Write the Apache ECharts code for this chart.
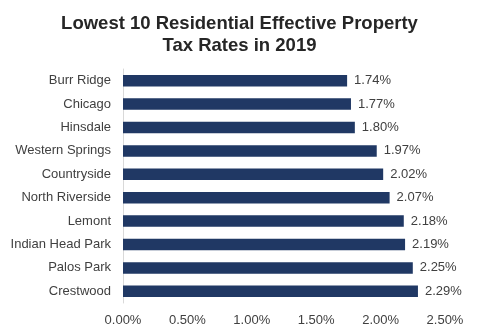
<!DOCTYPE html>
<html><head><meta charset="utf-8">
<script src="https://cdn.jsdelivr.net/npm/echarts@6/dist/echarts.min.js"></script>
<style>html,body{margin:0;padding:0;background:#fff}#c{width:479px;height:335px}</style>
</head><body><div id="c"></div>
<script>
const categories = ["Burr Ridge","Chicago","Hinsdale","Western Springs","Countryside","North Riverside","Lemont","Indian Head Park","Palos Park","Crestwood"];
const rates = [1.74,1.77,1.80,1.97,2.02,2.07,2.18,2.19,2.25,2.29];
const titleText = "Lowest 10 Residential Effective Property\nTax Rates in 2019";
const fmt = v => v.toFixed(2) + '%';
const chart = echarts.init(document.getElementById('c'));
chart.setOption({
  animation:false,
  title:{text:titleText,left:'center',top:8,
    textStyle:{fontFamily:'Liberation Sans, Arial',fontSize:18.5,fontWeight:'bold',color:'#262626',lineHeight:22}},
  grid:{left:123,right:34,top:69,bottom:32},
  xAxis:{type:'value',min:0,max:2.5,interval:0.5,
    axisLine:{show:false},axisTick:{show:false},splitLine:{show:false},
    axisLabel:{formatter:fmt,fontFamily:'Liberation Sans, Arial',fontSize:13,color:'#404040',margin:11}},
  yAxis:{type:'category',data:categories,inverse:true,
    axisLine:{show:true,lineStyle:{color:'#d9d9d9',width:1}},axisTick:{show:false},
    axisLabel:{fontFamily:'Liberation Sans, Arial',fontSize:13,color:'#404040',margin:12}},
  series:[{type:'bar',data:rates,barWidth:'49%',
    itemStyle:{color:'#203864'},
    label:{show:true,position:'right',distance:7,formatter:p=>fmt(p.value),
      fontFamily:'Liberation Sans, Arial',fontSize:13,color:'#404040'}}]
});
</script></body></html>
